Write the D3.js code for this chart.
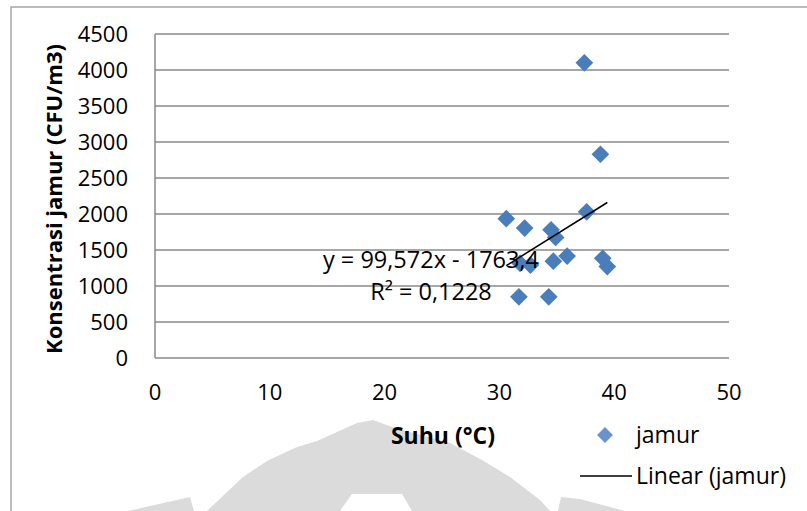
<!DOCTYPE html>
<html>
<head>
<meta charset="utf-8">
<script src="https://cdn.jsdelivr.net/npm/d3@7"></script>
<style>
  html, body { margin: 0; padding: 0; background: #fff; }
  svg { display: block; }
  text { font-family: "Open Sans", "Noto Sans", sans-serif; fill: #000; }
</style>
</head>
<body>
<svg id="chart" width="807" height="511"></svg>
<script>
// Temperature (°C) and fungal concentration (CFU/m3) per sample
const suhu = [37.4, 38.8, 37.6, 30.6, 32.2, 34.5, 34.9, 35.9, 34.7, 32.7, 31.8, 39.0, 39.4, 31.7, 34.3];
const jamur = [4100, 2830, 2030, 1935, 1805, 1780, 1675, 1415, 1345, 1290, 1315, 1385, 1270, 850, 850];

const xTicks = [0, 10, 20, 30, 40, 50];
const yTicks = [0, 500, 1000, 1500, 2000, 2500, 3000, 3500, 4000, 4500];

// Regression reported on the chart
const slope = 99.572;
const intercept = -1763.4;
const equationLabel = "y = 99,572x - 1763,4";
const r2Label = "R² = 0,1228";

const svg = d3.select("#chart");
const x = d3.scaleLinear().domain([0, 50]).range([155, 729]);
const y = d3.scaleLinear().domain([0, 4500]).range([358, 34]);

const gridColor = "#8a8a8a";
const markColor = "#4a7ebb";

// faint emblem behind the lower part of the chart
const emblem = svg.append("g").attr("fill", "#dbdbdb");
emblem.append("path").attr("d",
  "M207,511 L243,477 L267,461 L297,447 L317,441 L357,423 L373,420 L392,427 L450,443 L482,460 L510,477 L540,500 L550,511 L412,511 L402,494 L352,494 L340,511 Z");
emblem.append("path").attr("d", "M128,511 L190,497 L194,511 Z");
emblem.append("path").attr("d", "M558,511 L561,497 L580,499 L625,511 Z");

// outer frame (left and top edges)
svg.append("path")
  .attr("d", "M11,511 L11,7 L807,7")
  .attr("fill", "none").attr("stroke", "#a6a6a6").attr("stroke-width", 1.5);

// horizontal gridlines
svg.append("g").selectAll("line").data(yTicks).join("line")
  .attr("x1", x(0)).attr("x2", x(50))
  .attr("y1", d => y(d)).attr("y2", d => y(d))
  .attr("stroke", gridColor).attr("stroke-width", 1.5);

// vertical axis line
svg.append("line")
  .attr("x1", x(0)).attr("x2", x(0))
  .attr("y1", y(4500)).attr("y2", y(0))
  .attr("stroke", gridColor).attr("stroke-width", 1.5);

// y tick labels
svg.append("g").selectAll("text").data(yTicks).join("text")
  .attr("x", 128).attr("y", d => y(d))
  .attr("dy", "0.36em")
  .attr("text-anchor", "end")
  .attr("font-size", 22)
  .text(d => d);

// x tick labels
svg.append("g").selectAll("text").data(xTicks).join("text")
  .attr("x", d => x(d)).attr("y", 392)
  .attr("dy", "0.36em")
  .attr("text-anchor", "middle")
  .attr("font-size", 22)
  .text(d => d);

// axis titles
svg.append("text")
  .attr("x", 443).attr("y", 436).attr("dy", "0.36em")
  .attr("text-anchor", "middle")
  .attr("font-size", 23).attr("font-weight", "bold")
  .text("Suhu (°C)");

svg.append("text")
  .attr("transform", "translate(62,199) rotate(-90)")
  .attr("text-anchor", "middle")
  .attr("font-size", 22).attr("font-weight", "bold")
  .text("Konsentrasi jamur (CFU/m3)");

// data points as diamonds
const diamond = d3.symbol().type(d3.symbolDiamond2).size(200);
svg.append("g").selectAll("path").data(suhu.map((s, i) => [s, jamur[i]])).join("path")
  .attr("d", diamond)
  .attr("transform", d => `translate(${x(d[0])},${y(d[1])})`)
  .attr("fill", markColor);

// linear trend line across the data range
const [xMin, xMax] = d3.extent(suhu);
svg.append("line")
  .attr("x1", x(xMin)).attr("y1", y(slope * xMin + intercept))
  .attr("x2", x(xMax)).attr("y2", y(slope * xMax + intercept))
  .attr("stroke", "#000").attr("stroke-width", 1.5);

// regression label
svg.append("text")
  .attr("x", 431).attr("y", 260).attr("dy", "0.36em")
  .attr("text-anchor", "middle").attr("font-size", 23.5)
  .text(equationLabel);
svg.append("text")
  .attr("x", 431).attr("y", 292).attr("dy", "0.36em")
  .attr("text-anchor", "middle").attr("font-size", 23.5)
  .text(r2Label);

// legend
svg.append("path")
  .attr("d", d3.symbol().type(d3.symbolDiamond2).size(160))
  .attr("transform", "translate(605,435)")
  .attr("fill", "#6a92cc");
svg.append("text")
  .attr("x", 636).attr("y", 435).attr("dy", "0.36em")
  .attr("font-size", 23).text("jamur");
svg.append("line")
  .attr("x1", 580).attr("x2", 632).attr("y1", 476).attr("y2", 476)
  .attr("stroke", "#000").attr("stroke-width", 1.5);
svg.append("text")
  .attr("x", 636).attr("y", 476).attr("dy", "0.36em")
  .attr("font-size", 23).text("Linear (jamur)");
</script>
</body>
</html>
